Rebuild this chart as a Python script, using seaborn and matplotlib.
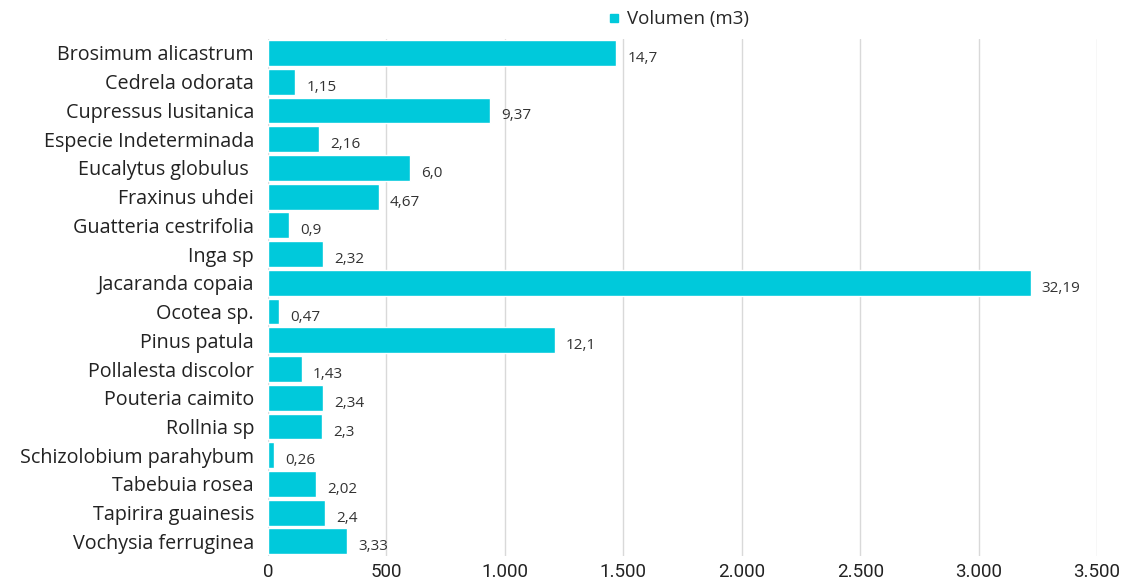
import pandas as pd
import seaborn as sns
import matplotlib.pyplot as plt
from matplotlib.lines import Line2D

especies = ["Brosimum alicastrum", "Cedrela odorata", "Cupressus lusitanica",
            "Especie Indeterminada", "Eucalytus globulus ", "Fraxinus uhdei",
            "Guatteria cestrifolia", "Inga sp", "Jacaranda copaia", "Ocotea sp.",
            "Pinus patula", "Pollalesta discolor", "Pouteria caimito", "Rollnia sp",
            "Schizolobium parahybum", "Tabebuia rosea", "Tapirira guainesis",
            "Vochysia ferruginea"]
volumen = [1470, 115, 937, 216, 600, 467, 90, 232, 3219, 47,
           1210, 143, 234, 230, 26, 202, 240, 333]
etiquetas = ["14,7", "1,15", "9,37", "2,16", "6,0", "4,67", "0,9", "2,32", "32,19", "0,47",
             "12,1", "1,43", "2,34", "2,3", "0,26", "2,02", "2,4", "3,33"]
ticks = [0, 500, 1000, 1500, 2000, 2500, 3000, 3500]

color = "#00C9DB"

sns.set_style("white")
plt.rcParams['font.family'] = ['Open Sans', 'DejaVu Sans']

df = pd.DataFrame({"especie": especies, "volumen": volumen})

fig = plt.figure(figsize=(11.28, 5.85), dpi=100)
ax = fig.add_axes([0.2376, 0.050, 0.7350, 0.884])
sns.barplot(data=df, x="volumen", y="especie", color=color, width=0.9,
            saturation=1, ax=ax, zorder=3)

for i, (v, t) in enumerate(zip(volumen, etiquetas)):
    ax.annotate(t, (v, i), xytext=(8, -4), textcoords="offset points",
                va="center", ha="left", fontsize=11, color="#333333")

ax.set_xlim(0, 3500)
ax.set_xticks(ticks)
ax.set_xticklabels([f"{t:,}".replace(",", ".") for t in ticks],
                   fontsize=13.5, family="Roboto", color="#222222")
ax.tick_params(axis="y", labelsize=14.2, length=0, pad=10, colors="#222222")
ax.tick_params(axis="x", length=0, pad=5)
ax.set_xlabel("")
ax.set_ylabel("")
ax.grid(axis="x", color="#d9d9d9", linewidth=1, zorder=0)
for s in ax.spines.values():
    s.set_visible(False)

handle = Line2D([], [], marker="s", color=color, linestyle="", markersize=6)
fig.legend([handle], ["Volumen (m3)"], loc="center", bbox_to_anchor=(0.6, 0.967),
           frameon=False, fontsize=13.5, handletextpad=0.2, handlelength=1)

fig.savefig("out.png", dpi=100)
